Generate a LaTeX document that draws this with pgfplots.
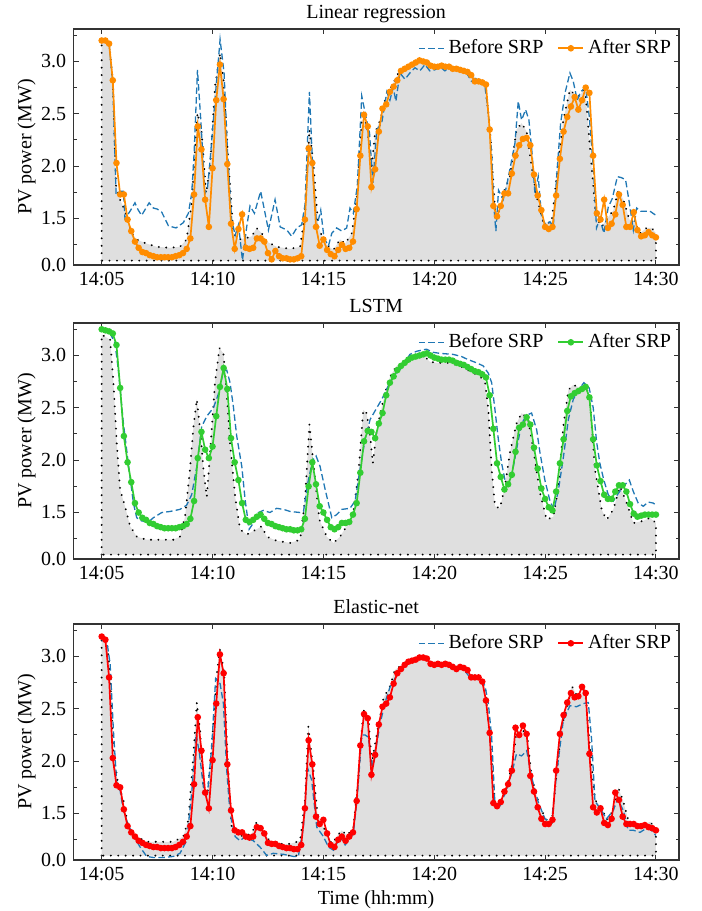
\documentclass[border=0pt]{standalone}
\usepackage{fontspec}
\setmainfont{Liberation Serif}
\usepackage{pgfplots}
\usepackage{pgfplotstable}
\pgfplotsset{compat=1.18}
\definecolor{mplblue}{HTML}{1F77B4}
\definecolor{orng}{HTML}{FF8C00}
\definecolor{lgreen}{HTML}{32CD32}
\definecolor{rd}{HTML}{FF0000}

\pgfplotstableread{
v
3.20
3.20
3.17
2.82
2.03
1.73
1.73
1.49
1.38
1.28
1.22
1.18
1.17
1.15
1.14
1.13
1.13
1.13
1.13
1.13
1.14
1.15
1.17
1.21
1.31
1.73
2.38
2.16
1.68
1.42
1.98
2.63
2.97
2.64
2.02
1.45
1.21
1.40
1.54
1.22
1.21
1.22
1.31
1.31
1.28
1.17
1.11
1.19
1.14
1.12
1.12
1.11
1.11
1.12
1.14
1.49
2.17
2.03
1.42
1.24
1.30
1.20
1.16
1.14
1.20
1.25
1.21
1.22
1.28
1.59
2.10
2.49
2.38
1.80
1.97
2.33
2.55
2.59
2.71
2.76
2.82
2.91
2.93
2.95
2.97
2.99
3.01
3.00
2.99
2.96
2.95
2.95
2.96
2.95
2.95
2.93
2.93
2.92
2.91
2.90
2.87
2.81
2.81
2.80
2.78
2.35
1.62
1.52
1.62
1.74
1.74
1.93
2.10
2.20
2.26
2.27
2.20
1.92
1.72
1.58
1.42
1.40
1.42
1.72
2.07
2.33
2.47
2.57
2.66
2.54
2.63
2.75
2.70
2.10
1.55
1.49
1.68
1.41
1.45
1.54
1.73
1.63
1.42
1.42
1.56
1.39
1.33
1.34
1.37
1.34
1.32
}\orangeafter

\pgfplotstableread{
v
3.25
3.24
3.23
3.21
3.10
2.69
2.23
1.98
1.79
1.59
1.50
1.45
1.43
1.40
1.39
1.37
1.36
1.35
1.35
1.35
1.35
1.36
1.37
1.39
1.44
1.61
2.02
2.27
2.10
2.02
2.13
2.42
2.70
2.88
2.68
2.21
1.98
1.81
1.59
1.43
1.41
1.43
1.46
1.48
1.44
1.40
1.39
1.37
1.36
1.35
1.34
1.34
1.33
1.33
1.34
1.44
1.75
1.98
1.77
1.56
1.50
1.43
1.36
1.34
1.36
1.40
1.40
1.41
1.48
1.59
1.88
2.18
2.28
2.27
2.21
2.35
2.45
2.62
2.74
2.80
2.86
2.90
2.93
2.96
2.98
2.99
3.00
3.01
3.02
3.00
2.98
2.97
2.96
2.96
2.96
2.95
2.93
2.92
2.91
2.89
2.87
2.85
2.84
2.82
2.79
2.62
2.30
1.97
1.84
1.72
1.77
1.86
2.08
2.31
2.34
2.41
2.34
2.12
1.92
1.73
1.63
1.55
1.52
1.70
1.97
2.20
2.47
2.61
2.64
2.66
2.68
2.70
2.60
2.20
1.95
1.80
1.67
1.63
1.63
1.70
1.76
1.76
1.70
1.58
1.49
1.46
1.47
1.48
1.48
1.48
1.48
}\greenafter

\pgfplotstableread{
v
3.19
3.16
2.80
2.03
1.77
1.75
1.54
1.38
1.32
1.28
1.24
1.22
1.20
1.19
1.18
1.18
1.17
1.17
1.17
1.17
1.18
1.20
1.23
1.28
1.38
1.78
2.42
2.10
1.70
1.55
2.01
2.55
3.02
2.84
1.97
1.53
1.34
1.32
1.32
1.28
1.27
1.28
1.37
1.36
1.31
1.22
1.21
1.21
1.19
1.18
1.17
1.17
1.16
1.16
1.20
1.55
2.20
1.97
1.47
1.40
1.44
1.31
1.20
1.18
1.25
1.28
1.24
1.28
1.32
1.62
2.15
2.45
2.41
1.87
2.06
2.35
2.52
2.55
2.61
2.74
2.84
2.88
2.92
2.95
2.96
2.97
2.99
2.99
2.98
2.93
2.92
2.93
2.92
2.93
2.92
2.90
2.88
2.90
2.89
2.87
2.80
2.80
2.80
2.76
2.58
2.27
1.60
1.57
1.61
1.71
1.78
1.91
2.32
2.25
2.34
2.26
1.86
1.71
1.56
1.45
1.40
1.40
1.44
1.91
2.26
2.44
2.56
2.65
2.61
2.62
2.71
2.65
2.07
1.56
1.51
1.55
1.41
1.39
1.45
1.70
1.63
1.47
1.40
1.40
1.40
1.38
1.38
1.39
1.37
1.36
1.34
}\redafter

\pgfplotsset{
  every axis title/.style={at={(0.5,1)}, anchor=base, yshift=5.5pt},
  srp/.style={
    scale only axis, width=302.85pt, height=118pt,
    xmin=-1.281, xmax=26.04, ymin=1.056, ymax=3.31,
    xtick={0,5,10,15,20,25},
    xticklabels={14:05,14:10,14:15,14:20,14:25,14:30},
    ytick={1.056,1.5,2,2.5,3},
    yticklabels={0.0,1.5,2.0,2.5,3.0},
    minor ytick={1.25,1.75,2.25,2.75,3.25},
    tick align=inside, major tick length=2.6pt, minor tick length=1.6pt,
    axis line style={black!80, line width=0.65pt},
    every tick/.style={black!80, line width=0.5pt},
    axis on top,
    font=\fontsize{10}{12}\selectfont,
    tick label style={font=\fontsize{10}{12}\selectfont},
    title style={font=\fontsize{10}{12}\selectfont},
    ylabel={PV power (MW)},
    ylabel style={at={(axis description cs:-0.077,0.5)}, anchor=center, rotate=0},
    xlabel style={yshift=2pt},
    legend style={draw=none, fill=none, at={(1.004,0.99)}, anchor=north east,
      legend columns=2, font=\fontsize{10}{12}\selectfont,
      /tikz/every even column/.append style={column sep=5pt}},
    legend image code/.code={\draw[mark repeat=2,mark phase=2,##1] plot coordinates {(0cm,0cm) (0.22cm,0cm) (0.44cm,0cm)};},
  },
  grayarea/.style={fill=gray!25, draw=black, line width=1.05pt, line cap=round, dash pattern=on 0.01pt off 3.7pt, forget plot},
  before/.style={mplblue, line width=0.65pt, dash pattern=on 3.2pt off 1.6pt, no marks},
  after/.style={line width=0.85pt, mark=*, mark size=1.2pt},
}

\begin{document}
\begin{tikzpicture}
\useasboundingbox (0,0) rectangle (351pt,-455.5pt);

% ---------------- Panel 1: Linear regression
\begin{axis}[srp, at={(36.65pt,-132.5pt)}, anchor=south west, title={Linear regression}]
\addplot[grayarea] coordinates {(0,1.098)(0,3.20)(0.33,3.18)(0.5,2.82)(0.65,1.80)(0.83,1.68)(1.05,1.57)(1.35,1.36)(1.58,1.30)(2.03,1.26)(2.48,1.23)(3.08,1.22)(3.53,1.23)(3.83,1.30)(4.06,1.65)(4.32,2.51)(4.51,2.32)(4.71,1.74)(4.89,2.0)(5.11,2.76)(5.34,3.08)(5.49,2.83)(5.71,2.06)(5.94,1.36)(6.17,1.30)(6.47,1.31)(6.77,1.33)(6.99,1.41)(7.22,1.36)(7.44,1.28)(7.89,1.23)(8.50,1.21)(8.95,1.23)(9.17,1.55)(9.37,2.35)(9.55,2.03)(9.77,1.42)(10.08,1.26)(10.45,1.20)(10.75,1.30)(10.98,1.26)(11.28,1.36)(11.50,1.68)(11.73,2.44)(11.95,2.41)(12.18,2.00)(12.33,2.32)(12.56,2.44)(12.78,2.63)(13.0,2.73)(13.45,2.92)(14.05,2.97)(14.35,3.0)(14.73,2.97)(15.11,2.95)(15.86,2.93)(16.46,2.91)(16.91,2.84)(17.29,2.79)(17.51,2.38)(17.74,1.58)(17.89,1.55)(18.11,1.74)(18.41,1.90)(18.71,2.35)(18.94,2.41)(19.17,2.33)(19.39,2.0)(19.62,1.71)(19.92,1.46)(20.29,1.46)(20.52,1.90)(20.82,2.44)(21.12,2.73)(21.35,2.68)(21.57,2.67)(21.80,2.76)(22.02,2.19)(22.29,1.52)(22.55,1.42)(22.77,1.49)(23.08,1.58)(23.30,1.77)(23.53,1.68)(23.80,1.49)(24.05,1.46)(24.28,1.36)(24.58,1.41)(24.80,1.41)(25,1.36)(25,1.098)(0,1.098)};
\addplot[before] coordinates {(0,3.22)(0.17,3.20)(0.33,3.18)(0.5,2.80)(0.65,1.73)(0.83,1.76)(0.98,1.76)(1.05,1.50)(1.28,1.57)(1.50,1.65)(1.65,1.58)(1.80,1.53)(2.14,1.65)(2.33,1.60)(2.51,1.59)(2.71,1.56)(3.01,1.43)(3.35,1.41)(3.68,1.46)(3.91,1.55)(4.06,1.74)(4.17,2.13)(4.32,2.92)(4.47,2.44)(4.66,1.74)(4.77,1.79)(4.89,2.06)(5.11,2.63)(5.34,3.21)(5.52,2.89)(5.67,2.16)(5.86,1.49)(6.02,1.34)(6.17,1.44)(6.35,1.10)(6.54,1.42)(6.69,1.62)(6.89,1.55)(7.17,1.76)(7.37,1.55)(7.52,1.39)(7.82,1.68)(8.05,1.42)(8.35,1.39)(8.57,1.33)(8.80,1.41)(9.02,1.44)(9.17,1.63)(9.37,2.71)(9.52,1.97)(9.70,1.42)(9.88,1.58)(10.03,1.31)(10.23,1.24)(10.38,1.36)(10.60,1.41)(10.83,1.38)(11.05,1.41)(11.20,1.60)(11.35,1.55)(11.53,1.81)(11.73,2.67)(11.95,2.44)(12.08,2.32)(12.23,1.84)(12.41,2.35)(12.63,2.41)(12.86,2.71)(13.0,2.63)(13.15,2.75)(13.27,2.62)(13.45,2.89)(13.68,2.83)(13.90,2.89)(14.13,2.94)(14.35,2.91)(14.58,2.97)(14.80,2.91)(15.03,2.92)(15.26,2.95)(15.48,2.91)(15.71,2.95)(15.93,2.92)(16.23,2.92)(16.46,2.89)(16.68,2.81)(16.91,2.84)(17.14,2.79)(17.29,2.76)(17.44,2.51)(17.59,2.13)(17.69,1.61)(17.78,1.38)(17.90,1.77)(18.11,1.68)(18.26,1.81)(18.44,2.00)(18.64,2.22)(18.79,2.62)(18.94,2.44)(19.12,2.54)(19.27,2.44)(19.41,2.13)(19.54,1.74)(19.69,1.90)(19.84,1.52)(20.02,1.44)(20.22,1.47)(20.37,1.42)(20.52,1.90)(20.70,2.41)(20.90,2.70)(21.12,2.89)(21.27,2.81)(21.45,2.63)(21.60,2.71)(21.83,2.75)(21.99,2.48)(22.17,2.00)(22.32,1.41)(22.47,1.50)(22.65,1.36)(22.85,1.61)(23.03,1.69)(23.26,1.90)(23.45,1.89)(23.63,1.87)(23.80,1.65)(23.98,1.39)(24.13,1.60)(24.31,1.57)(24.50,1.57)(24.73,1.57)(25.0,1.53)};
\addlegendentry{Before SRP}
\addplot[after, orng] table[x expr=\coordindex/6, y=v] {\orangeafter};
\addlegendentry{After SRP}
\end{axis}

% ---------------- Panel 2: LSTM
\begin{axis}[srp, at={(36.65pt,-279.5pt)}, anchor=south west, title={LSTM}]
\addplot[grayarea] coordinates {(0,1.098)(0,3.20)(0.38,3.15)(0.53,2.74)(0.68,2.16)(0.83,1.72)(1.05,1.56)(1.28,1.37)(1.58,1.27)(2.03,1.24)(2.63,1.24)(3.23,1.24)(3.53,1.27)(3.76,1.46)(3.98,1.91)(4.14,2.32)(4.29,2.58)(4.47,2.23)(4.59,1.91)(4.74,1.65)(4.89,2.07)(5.11,2.74)(5.31,3.07)(5.49,3.02)(5.64,2.64)(5.79,2.16)(6.02,1.65)(6.24,1.34)(6.54,1.29)(6.99,1.34)(7.22,1.37)(7.44,1.27)(7.89,1.23)(8.50,1.21)(8.95,1.24)(9.17,1.62)(9.37,2.34)(9.58,1.91)(9.82,1.43)(10.15,1.27)(10.45,1.21)(10.75,1.27)(11.05,1.37)(11.35,1.50)(11.58,1.88)(11.80,2.48)(11.95,2.45)(12.11,2.23)(12.23,1.97)(12.41,2.29)(12.63,2.51)(12.86,2.70)(13.01,2.80)(13.30,2.90)(13.75,2.94)(14.20,2.99)(14.58,2.99)(14.80,2.94)(15.11,2.93)(15.71,2.93)(16.16,2.90)(16.61,2.85)(17.06,2.80)(17.29,2.75)(17.44,2.48)(17.59,1.91)(17.74,1.56)(17.96,1.54)(18.19,1.75)(18.41,2.07)(18.71,2.35)(18.94,2.45)(19.24,2.39)(19.47,2.10)(19.77,1.69)(20.07,1.43)(20.37,1.46)(20.59,1.72)(20.82,2.32)(21.05,2.67)(21.27,2.72)(21.57,2.69)(21.87,2.69)(22.02,2.58)(22.25,1.91)(22.55,1.53)(22.77,1.43)(23.08,1.53)(23.38,1.75)(23.68,1.59)(23.98,1.40)(24.43,1.42)(24.73,1.45)(25,1.40)(25,1.098)(0,1.098)};
\addplot[before] coordinates {(0,3.26)(0.38,3.21)(0.60,3.12)(0.75,2.86)(0.98,2.35)(1.20,1.97)(1.43,1.59)(1.58,1.45)(1.80,1.42)(2.11,1.41)(2.33,1.45)(2.71,1.50)(3.08,1.51)(3.53,1.53)(3.83,1.57)(4.06,1.67)(4.29,1.94)(4.51,2.32)(4.74,2.42)(5.04,2.50)(5.26,2.63)(5.49,2.85)(5.64,2.86)(5.79,2.74)(5.94,2.51)(6.09,2.23)(6.32,1.94)(6.47,1.62)(6.65,1.34)(6.84,1.40)(7.07,1.50)(7.29,1.52)(7.59,1.50)(7.89,1.54)(8.20,1.53)(8.50,1.51)(8.95,1.50)(9.10,1.51)(9.32,1.81)(9.52,2.00)(9.67,2.04)(9.85,1.94)(10.08,1.72)(10.38,1.45)(10.60,1.48)(10.83,1.53)(11.20,1.54)(11.43,1.61)(11.65,1.91)(11.88,2.20)(12.11,2.39)(12.41,2.50)(12.63,2.58)(12.86,2.68)(13.08,2.77)(13.30,2.83)(13.60,2.90)(13.90,3.01)(14.20,3.04)(14.65,3.06)(14.95,3.03)(15.26,3.02)(15.86,3.01)(16.23,2.99)(16.53,2.96)(16.91,2.93)(17.21,2.90)(17.44,2.83)(17.59,2.74)(17.74,2.48)(17.89,2.20)(18.04,1.97)(18.19,1.81)(18.34,1.77)(18.49,1.85)(18.71,2.10)(18.94,2.35)(19.17,2.43)(19.39,2.45)(19.62,2.29)(19.77,2.07)(19.99,1.81)(20.22,1.61)(20.40,1.53)(20.59,1.70)(20.82,2.02)(21.05,2.39)(21.27,2.58)(21.50,2.67)(21.75,2.74)(21.99,2.69)(22.17,2.50)(22.32,2.18)(22.47,1.97)(22.65,1.81)(22.85,1.67)(23.08,1.61)(23.26,1.67)(23.53,1.75)(23.80,1.81)(23.98,1.70)(24.20,1.59)(24.43,1.56)(24.65,1.60)(24.88,1.59)(25.0,1.57)};
\addlegendentry{Before SRP}
\addplot[after, lgreen] table[x expr=\coordindex/6, y=v] {\greenafter};
\addlegendentry{After SRP}
\end{axis}

% ---------------- Panel 3: Elastic-net
\begin{axis}[srp, at={(36.65pt,-430pt)}, anchor=south west, title={Elastic-net}, xlabel={Time (hh:mm)}]
\addplot[grayarea] coordinates {(0,1.098)(0,3.18)(0.23,3.15)(0.38,2.83)(0.53,2.07)(0.75,1.77)(0.98,1.63)(1.20,1.37)(1.58,1.28)(2.03,1.23)(2.63,1.23)(3.23,1.23)(3.68,1.28)(3.91,1.44)(4.14,2.07)(4.29,2.56)(4.44,2.29)(4.59,1.75)(4.77,1.69)(4.96,2.13)(5.19,2.83)(5.34,3.07)(5.52,2.85)(5.67,2.07)(5.86,1.37)(6.09,1.31)(6.39,1.28)(6.77,1.31)(6.99,1.42)(7.29,1.34)(7.59,1.23)(8.05,1.21)(8.50,1.21)(8.95,1.24)(9.17,1.63)(9.32,2.33)(9.55,1.91)(9.73,1.50)(10.0,1.37)(10.38,1.21)(10.60,1.28)(10.83,1.34)(11.05,1.29)(11.35,1.36)(11.58,1.85)(11.80,2.49)(12.03,2.42)(12.18,1.98)(12.41,2.26)(12.71,2.60)(13.01,2.72)(13.22,2.87)(13.75,2.95)(14.35,2.99)(14.73,2.98)(14.95,2.93)(15.56,2.93)(16.16,2.91)(16.53,2.83)(17.06,2.80)(17.29,2.71)(17.51,2.23)(17.74,1.58)(17.96,1.56)(18.26,1.74)(18.56,2.01)(18.71,2.30)(18.94,2.28)(19.17,2.30)(19.39,1.85)(19.77,1.56)(20.07,1.44)(20.29,1.40)(20.52,1.88)(20.74,2.33)(20.97,2.49)(21.20,2.72)(21.50,2.60)(21.80,2.71)(22.02,2.14)(22.25,1.63)(22.55,1.56)(22.77,1.44)(23.08,1.53)(23.30,1.75)(23.53,1.61)(23.75,1.44)(24.13,1.37)(24.43,1.39)(24.73,1.42)(25,1.36)(25,1.098)(0,1.098)};
\addplot[before] coordinates {(0,3.15)(0.23,3.15)(0.38,2.93)(0.53,2.29)(0.68,1.78)(0.83,1.72)(0.98,1.53)(1.20,1.39)(1.43,1.29)(1.73,1.18)(2.03,1.09)(2.33,1.08)(2.78,1.08)(3.23,1.09)(3.53,1.12)(3.83,1.24)(4.06,1.69)(4.26,2.26)(4.41,2.07)(4.59,1.75)(4.77,1.69)(4.96,2.13)(5.14,2.79)(5.34,2.74)(5.49,2.55)(5.64,1.91)(5.79,1.50)(6.02,1.28)(6.24,1.24)(6.47,1.28)(6.62,1.26)(6.84,1.24)(7.14,1.18)(7.44,1.10)(7.74,1.12)(8.20,1.11)(8.65,1.09)(8.87,1.09)(9.10,1.37)(9.28,1.94)(9.47,1.82)(9.70,1.37)(10.0,1.28)(10.23,1.18)(10.45,1.15)(10.60,1.21)(10.75,1.28)(10.98,1.20)(11.13,1.24)(11.35,1.31)(11.53,1.66)(11.73,2.25)(11.88,2.25)(12.03,2.23)(12.18,1.94)(12.33,2.07)(12.56,2.36)(12.78,2.56)(13.01,2.71)(13.15,2.76)(13.38,2.85)(13.68,2.91)(14.05,2.96)(14.50,2.98)(14.80,2.94)(15.26,2.92)(15.86,2.90)(16.31,2.88)(16.61,2.80)(17.06,2.79)(17.29,2.72)(17.44,2.55)(17.59,2.23)(17.74,1.58)(17.93,1.55)(18.19,1.69)(18.49,1.88)(18.71,2.07)(18.94,2.05)(19.17,2.10)(19.39,1.85)(19.69,1.61)(19.99,1.45)(20.29,1.42)(20.52,1.88)(20.82,2.39)(21.12,2.53)(21.42,2.52)(21.72,2.55)(21.95,2.56)(22.10,2.20)(22.25,1.62)(22.47,1.55)(22.77,1.45)(23.08,1.53)(23.26,1.64)(23.53,1.53)(23.75,1.34)(23.98,1.34)(24.28,1.32)(24.58,1.36)(24.80,1.34)(25,1.29)};
\addlegendentry{Before SRP}
\addplot[after, rd] table[x expr=\coordindex/6, y=v] {\redafter};
\addlegendentry{After SRP}
\end{axis}
\end{tikzpicture}
\end{document}
